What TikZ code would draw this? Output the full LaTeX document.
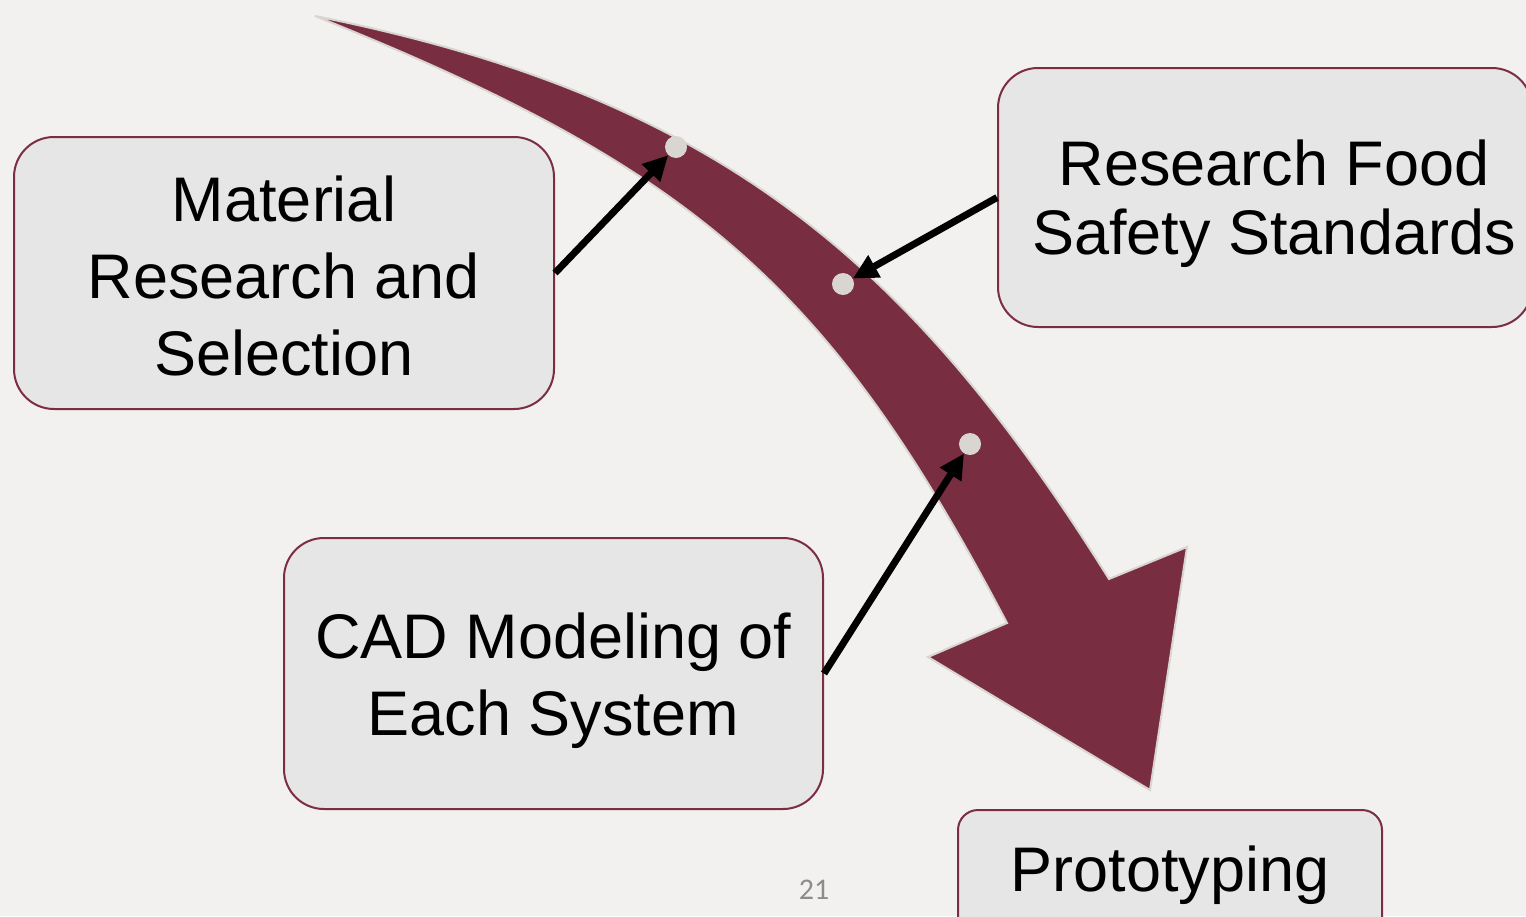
\documentclass[tikz,border=0pt]{standalone}
\usepackage{fontspec}
\setmainfont{Liberation Sans}
\newfontfamily\pagefont{Carlito}
\usetikzlibrary{arrows.meta}
\definecolor{bgcol}{HTML}{F2F1EF}
\definecolor{maroon}{HTML}{782D40}
\definecolor{boxborder}{HTML}{7B2D42}
\definecolor{boxfill}{HTML}{E6E6E6}
\definecolor{edgegray}{HTML}{D8D4D0}
\definecolor{dotfill}{HTML}{D9D6D2}
\definecolor{pagegray}{HTML}{8C8C8C}
\tikzset{
  stepbox/.style={draw=boxborder, line width=2pt, fill=boxfill, rounded corners=40pt,
    inner sep=0pt, align=center, text=black},
  bigtext/.style={font=\fontsize{63}{77}\selectfont},
  tighttext/.style={font=\fontsize{63}{69}\selectfont},
  marker/.style={circle, fill=dotfill, minimum size=22pt, inner sep=0pt},
  pointer/.style={draw=black, line width=7pt, -{Triangle[length=25pt,width=24pt]}},
  flowarrow/.style={fill=maroon, draw=edgegray, line width=2pt, line join=miter}
}
\begin{document}
\begin{tikzpicture}[x=1pt, y=-1pt]
\useasboundingbox (0,0) rectangle (1526,916);
\fill[bgcol] (0,0) rectangle (1526,916);

% big curved arrow
\coordinate (tail) at (315,16);
\coordinate (outerEnd) at (1109,579);
\coordinate (barbR) at (1187,547);
\coordinate (tip) at (1150,790);
\coordinate (barbL) at (928,657);
\coordinate (innerEnd) at (1007,623);
\path[flowarrow] (tail) .. controls (715,96) and (909,259) .. (outerEnd)
  -- (barbR) -- (tip) -- (barbL) -- (innerEnd)
  .. controls (832,290.5) and (700,170) .. (tail) -- cycle;

% dots on the arrow
\node[marker] (d1) at (676,147) {};
\node[marker] (d2) at (843,284) {};
\node[marker] (d3) at (970,444) {};

% boxes
\node[stepbox, bigtext, minimum width=540pt, minimum height=272pt] (mat) at (284,273)
  {\rule{0pt}{51pt}Material\\Research and\\Selection};
\node[stepbox, tighttext, minimum width=534pt, minimum height=259pt] (food) at (1265,197.5)
  {\rule{0pt}{59pt}\hspace*{18pt}Research Food\\\hspace*{18pt}Safety Standards};
\node[stepbox, bigtext, minimum width=539pt, minimum height=271pt] (cad) at (553.5,673.5)
  {\rule{0pt}{61pt}CAD Modeling of\\Each System};
\node[stepbox, bigtext, rounded corners=20pt, minimum width=424pt, minimum height=130pt] (proto) at (1170,875)
  {\raisebox{7pt}{Prototyping}};

% pointer arrows
\draw[pointer] (mat.east) -- (d1);
\draw[pointer] (food.west) -- (d2);
\draw[pointer] (cad.east) -- (d3);

% page number
\node[text=pagegray, font=\pagefont\fontsize{30}{36}\selectfont] (pg) at (814,890) {21};
\end{tikzpicture}
\end{document}
